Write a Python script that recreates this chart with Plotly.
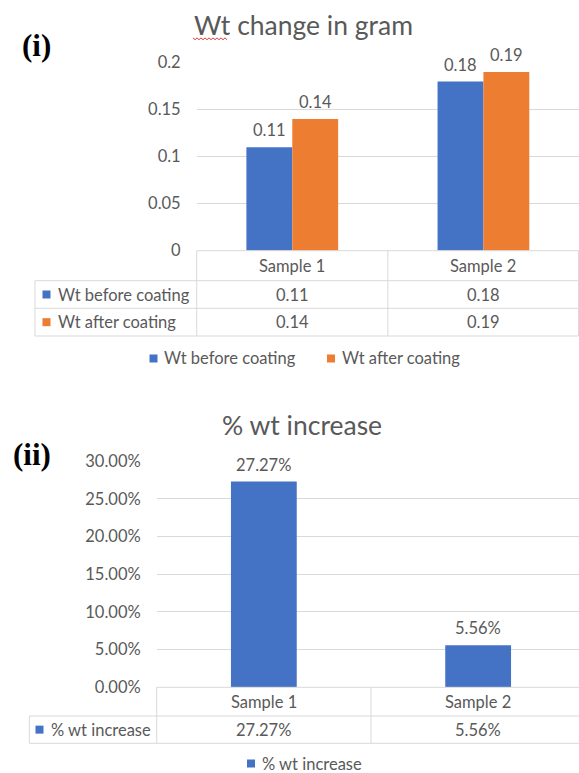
import plotly.graph_objects as go

# ---- data -------------------------------------------------------------
samples = ["Sample 1", "Sample 2"]
series_names = ["Wt before coating", "Wt after coating"]
wt_before = [0.11, 0.18]
wt_after = [0.14, 0.19]
pct_name = "% wt increase"
pct_increase = [0.2727, 0.0556]

top_title = "Wt change in gram"
bottom_title = "% wt increase"
top_ticks = [0, 0.05, 0.1, 0.15, 0.2]
bottom_ticks = [0, 0.05, 0.10, 0.15, 0.20, 0.25, 0.30]

# ---- styling ----------------------------------------------------------
W, H = 579, 773
BLUE = "#4472C4"
ORANGE = "#ED7D31"
TXT = "#595959"
GRID = "#D9D9D9"
FONT = "Lato, 'Open Sans', sans-serif"
FS = 16.5


def px(x):
    return x / W


def py(y):
    return 1 - y / H


fig = go.Figure()

# ---- chart (i): grouped bars ---------------------------------------------
BW = 0.24
for vals, col, name, off in [(wt_before, BLUE, series_names[0], -BW),
                             (wt_after, ORANGE, series_names[1], 0.0)]:
    fig.add_trace(go.Bar(
        x=list(range(len(samples))), y=vals, name=name,
        marker=dict(color=col, line=dict(width=0)),
        width=BW, offset=off, xaxis="x", yaxis="y", showlegend=False,
        hoverinfo="skip",
    ))

# ---- chart (ii): single series --------------------------------------------
fig.add_trace(go.Bar(
    x=list(range(len(samples))), y=pct_increase, name=pct_name,
    marker=dict(color=BLUE, line=dict(width=0)),
    width=0.307, xaxis="x2", yaxis="y2", showlegend=False, hoverinfo="skip",
))

annotations = []
shapes = []

# value labels above bars
for i, v in enumerate(wt_before):
    annotations.append(dict(x=i - BW / 2, y=v, xref="x", yref="y", text=f"{v:g}",
                            yshift=17, showarrow=False, font=dict(size=FS, color=TXT)))
for i, v in enumerate(wt_after):
    annotations.append(dict(x=i + BW / 2, y=v, xref="x", yref="y", text=f"{v:g}",
                            yshift=17, showarrow=False, font=dict(size=FS, color=TXT)))
for i, v in enumerate(pct_increase):
    annotations.append(dict(x=i, y=v, xref="x2", yref="y2", text=f"{v:.2%}",
                            yshift=17, showarrow=False, font=dict(size=FS, color=TXT)))


def hline(x0, x1, y):
    shapes.append(dict(type="line", xref="paper", yref="paper",
                       x0=px(x0), x1=px(x1), y0=py(y), y1=py(y),
                       line=dict(color=GRID, width=1)))


def vline(x, y0, y1, xref="paper"):
    xv = px(x) if xref == "paper" else x
    shapes.append(dict(type="line", xref=xref, yref="paper",
                       x0=xv, x1=xv, y0=py(y0), y1=py(y1),
                       line=dict(color=GRID, width=1)))


def square(x0, yc, col, size=8):
    shapes.append(dict(type="rect", xref="paper", yref="paper",
                       x0=px(x0), x1=px(x0 + size), y0=py(yc - size / 2), y1=py(yc + size / 2),
                       fillcolor=col, line=dict(width=0)))


def text(x, y, s, size=FS, xanchor="center", color=TXT, xref="paper", family=None):
    xv = px(x) if xref == "paper" else x
    f = dict(size=size, color=color)
    if family:
        f["family"] = family
    annotations.append(dict(x=xv, y=py(y), xref=xref, yref="paper", text=s,
                            showarrow=False, xanchor=xanchor, yanchor="middle", font=f))


# ---- data table (i) ----------------------------------------------------
T_TOP, T_R1, T_R2, T_BOT = 250.7, 280.7, 308.3, 336.0
T_LEFT, T_PLOT, T_RIGHT = 35, 196.7, 578.5
hline(T_PLOT, T_RIGHT, T_TOP)
for yy in (T_R1, T_R2, T_BOT):
    hline(T_LEFT, T_RIGHT, yy)
vline(T_LEFT, T_R1, T_BOT)
vline(T_PLOT, T_TOP, T_BOT)
vline(0.5, T_TOP, T_BOT, xref="x")
vline(T_RIGHT, T_TOP, T_BOT)

rows_top = [(wt_before, BLUE, series_names[0], (T_R1 + T_R2) / 2),
            (wt_after, ORANGE, series_names[1], (T_R2 + T_BOT) / 2)]
for i, s in enumerate(samples):
    text(i, (T_TOP + T_R1) / 2, s, xref="x")
for vals, col, name, yc in rows_top:
    square(42.5, yc, col)
    text(56, yc, name, xanchor="left")
    for i, v in enumerate(vals):
        text(i, yc, f"{v:g}", xref="x")

# legend (i)
LEG1_Y = 358.5
square(149.5, LEG1_Y, BLUE)
text(162, LEG1_Y, series_names[0], xanchor="left")
square(327, LEG1_Y, ORANGE)
text(340, LEG1_Y, series_names[1], xanchor="left")

# ---- data table (ii) ---------------------------------------------------
B_TOP, B_R1, B_BOT = 687.3, 716.0, 743.3
B_LEFT, B_PLOT = 29.3, 156.7
hline(B_PLOT, W, B_TOP)
hline(B_LEFT, W, B_R1)
hline(B_LEFT, W, B_BOT)
vline(B_LEFT, B_R1, B_BOT)
vline(B_PLOT, B_TOP, B_BOT)
vline(0.5, B_TOP, B_BOT, xref="x2")

for i, s in enumerate(samples):
    text(i, (B_TOP + B_R1) / 2, s, xref="x2")
yc = (B_R1 + B_BOT) / 2
square(35.5, yc, BLUE)
text(49, yc, pct_name, xanchor="left")
for i, v in enumerate(pct_increase):
    text(i, yc, f"{v:.2%}", xref="x2")

# legend (ii)
LEG2_Y = 763.5
square(247, LEG2_Y, BLUE)
text(260, LEG2_Y, pct_name, xanchor="left")

# ---- titles and panel tags ---------------------------------------------
text(303, 25, top_title, size=26.5)
text(302, 425, bottom_title, size=26.5)
text(36, 45, "<b>(i)</b>", size=31, color="black",
     family="'Liberation Serif', 'Times New Roman', serif")
text(31.5, 455, "<b>(ii)</b>", size=31, color="black",
     family="'Liberation Serif', 'Times New Roman', serif")

# spell-check squiggle under "Wt"
pts = []
xx = 193.0
k = 0
while xx <= 228:
    pts.append((xx, 38.5 + (1.2 if k % 2 else -0.6)))
    xx += 2.0
    k += 1
path = "M " + " L ".join(f"{px(a):.5f},{py(b):.5f}" for a, b in pts)
shapes.append(dict(type="path", xref="paper", yref="paper", path=path,
                   line=dict(color="#D83B3B", width=1)))

axis_common = dict(showgrid=False, zeroline=False, showline=False,
                   showticklabels=False, fixedrange=True, automargin=False)
yaxis_common = dict(showgrid=True, gridcolor=GRID, gridwidth=1, zeroline=False,
                    showline=False, ticks="", ticklabelstandoff=15, automargin=False,
                    tickfont=dict(size=FS, color=TXT), fixedrange=True)

fig.update_layout(
    width=W, height=H,
    margin=dict(l=0, r=0, t=0, b=0, pad=0, autoexpand=False),
    paper_bgcolor="white", plot_bgcolor="white",
    font=dict(family=FONT, color=TXT),
    barmode="overlay",
    showlegend=False,
    xaxis=dict(domain=[px(T_PLOT), 1], range=[-0.5, 1.5], **axis_common),
    yaxis=dict(domain=[py(T_TOP), py(62.7)], range=[0, 0.2],
               tickvals=top_ticks, ticktext=[f"{t:g}" for t in top_ticks],
               **yaxis_common),
    xaxis2=dict(domain=[px(B_PLOT), 1], range=[-0.5, -0.5 + (W - B_PLOT) / 214.3],
                anchor="y2", **axis_common),
    yaxis2=dict(domain=[py(B_TOP), py(461.0)], range=[0, 0.30], anchor="x2",
                tickvals=bottom_ticks, tickformat=".2%", **yaxis_common),
    annotations=annotations,
    shapes=shapes,
)

fig.write_html("out.html")
